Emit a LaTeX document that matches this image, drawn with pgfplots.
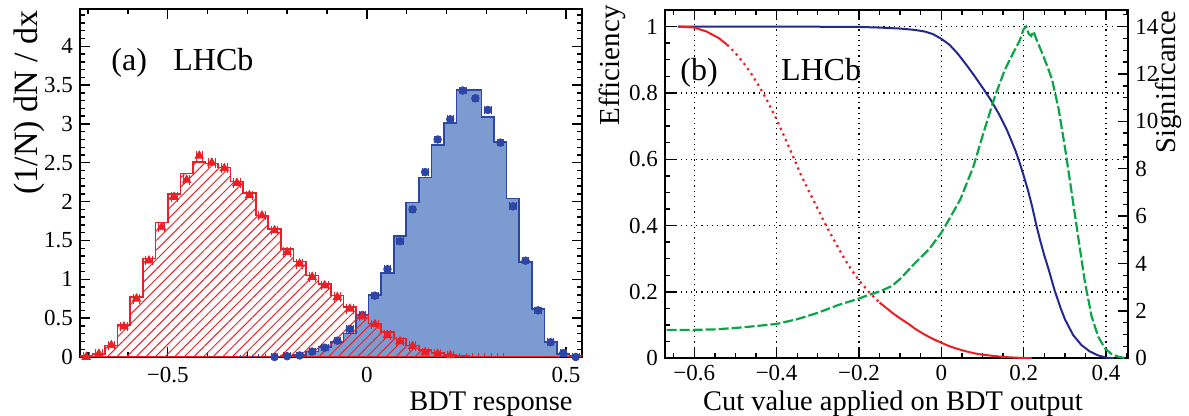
\documentclass[border=0pt]{standalone}
\usepackage{fontspec}
\setmainfont{Liberation Serif}
\usepackage{pgfplots}
\pgfplotsset{compat=1.18}
\usepackage{pgfplotstable}
\usetikzlibrary{patterns.meta}
\definecolor{hred}{RGB}{235,32,38}
\definecolor{hblue}{RGB}{45,70,165}
\definecolor{hfill}{RGB}{124,155,208}
\definecolor{cblue}{RGB}{35,40,140}
\definecolor{cred}{RGB}{235,30,35}
\definecolor{cgreen}{RGB}{10,165,70}

\pgfplotstableread{
e r b
-0.72 0.01 0
-0.6885 0.04 0
-0.657 0.15 0
-0.6255 0.41 0
-0.594 0.77 0
-0.5625 1.27 0
-0.531 1.73 0
-0.4995 2.10 0
-0.468 2.36 0
-0.4365 2.51 0
-0.405 2.49 0
-0.3735 2.44 0
-0.342 2.26 0.003
-0.3105 2.11 0.003
-0.279 1.82 0.004
-0.2475 1.65 0.006
-0.216 1.39 0.01
-0.1845 1.23 0.025
-0.153 1.05 0.07
-0.1215 0.94 0.13
-0.09 0.79 0.19
-0.0585 0.64 0.30
-0.027 0.54 0.54
0.0045 0.43 0.80
0.036 0.32 1.08
0.0675 0.24 1.56
0.099 0.15 1.99
0.1305 0.09 2.31
0.162 0.055 2.73
0.1935 0.025 3.01
0.225 0.012 3.44
0.2565 0.006 3.44
0.288 0.004 3.09
0.3195 0.003 2.77
0.351 0.002 2.04
0.3825 0 1.22
0.414 0 0.62
0.4455 0 0.19
0.477 0 0.04
0.5085 0 0.01
0.54 0 0.01
}\histtab

\pgfplotstableread{
c p
-0.70425 0.00
-0.67275 0.04
-0.64125 0.15
-0.60975 0.39
-0.57825 0.75
-0.54675 1.24
-0.51525 1.67
-0.48375 2.06
-0.45225 2.28
-0.42075 2.59
-0.38925 2.50
-0.35775 2.43
-0.32625 2.24
-0.29475 2.08
-0.26325 1.82
-0.23175 1.63
-0.20025 1.35
-0.16875 1.20
-0.13725 1.03
-0.10575 0.92
-0.07425 0.77
-0.04275 0.62
-0.01125 0.52
0.02025 0.42
0.05175 0.28
0.08325 0.20
0.11475 0.14
0.14625 0.06
0.17775 0.04
0.20925 0.02
0.24075 -0.01
0.27225 -0.01
0.30375 -0.01
0.33525 -0.01
}\redpts

\pgfplotstableread{
c p
-0.32625 -0.02
-0.29475 -0.02
-0.26325 -0.01
-0.23175 0.00
-0.20025 0.01
-0.16875 0.02
-0.13725 0.07
-0.10575 0.12
-0.07425 0.21
-0.04275 0.36
-0.01125 0.54
0.02025 0.79
0.05175 1.13
0.08325 1.49
0.11475 1.90
0.14625 2.38
0.17775 2.80
0.20925 3.06
0.24075 3.43
0.27225 3.33
0.30375 3.18
0.33525 2.76
0.36675 1.94
0.39825 1.24
0.42975 0.60
0.46125 0.19
0.49275 0.05
0.52425 0.00
}\bluepts

\pgfplotsset{rootstyle/.style={
  scale only axis, anchor=south west,
  tick align=inside, major tick length=5pt, minor tick length=2.5pt,
  axis line style={line width=0.9pt},
  every tick/.style={black, line width=0.7pt},
  tick label style={font=\fontsize{11.5}{12}\selectfont},
  /pgf/number format/assume math mode=true,
}}

\begin{document}
\begin{tikzpicture}
\path[use as bounding box] (0,0) rectangle (594.5pt,208pt);

% ---------------- panel (a)
\begin{axis}[rootstyle, at={(40pt,29.5pt)}, width=251pt, height=174pt,
  xmin=-0.72, xmax=0.54, ymin=0, ymax=4.48,
  xtick={-0.5,0,0.5}, xticklabels={−0.5,0,0.5},
  minor xtick={-0.7,-0.6,-0.4,-0.3,-0.2,-0.1,0.1,0.2,0.3,0.4},
  ytick={0,0.5,1,1.5,2,2.5,3,3.5,4},
  minor ytick={0.1,0.2,...,4.45},
  tick pos=both,
  xticklabel style={yshift=-1.5pt},
]
\addplot[const plot, draw=hblue, fill=hfill, line width=0.8pt] table[x=e,y=b]{\histtab} \closedcycle;
\addplot[const plot, draw=hred, line width=0.8pt,
  pattern={Lines[angle=45,distance=3.4pt,line width=0.5pt]}, pattern color=hred]
  table[x=e,y=r]{\histtab} \closedcycle;
\addplot[only marks, mark=*, mark size=1.9pt, color=hblue,
  error bars/.cd, x dir=both, x fixed=0.008, error bar style={line width=0.5pt}]
  table[x=c,y=p]{\bluepts};
\addplot[only marks, mark=triangle*, mark size=2.4pt, color=hred,
  error bars/.cd, x dir=both, x fixed=0.008, error bar style={line width=0.5pt}]
  table[x=c,y=p]{\redpts};
\end{axis}

% ---------------- panel (b), efficiency
\begin{axis}[rootstyle, at={(332.5pt,28.85pt)}, width=231.65pt, height=174.15pt,
  xmin=-0.671, xmax=0.454, ymin=0, ymax=1.05,
  xtick={-0.6,-0.4,-0.2,0,0.2,0.4}, xticklabels={−0.6,−0.4,−0.2,0,0.2,0.4},
  minor xtick={-0.65,-0.6,...,0.46},
  ytick={0,0.2,0.4,0.6,0.8,1}, minor ytick={0.05,0.1,...,1.06},
  xtick pos=both, ytick pos=left,
  grid=major, major grid style={black, line width=0.6pt, dotted},
]
\addplot[cblue, line width=1pt] coordinates {
(-0.64,1.0) (-0.5,1.0) (-0.4,1.0) (-0.3,0.9995) (-0.2,0.999) (-0.15,0.997)
(-0.1,0.994) (-0.065,0.99) (-0.04,0.985) (-0.02,0.977) (0,0.963) (0.02,0.945)
(0.04,0.918) (0.06,0.886) (0.08,0.852) (0.1,0.816) (0.12,0.779) (0.14,0.736)
(0.16,0.686) (0.18,0.626) (0.19,0.59) (0.2,0.55) (0.21,0.508) (0.22,0.46)
(0.23,0.405) (0.24,0.355) (0.25,0.31) (0.26,0.27) (0.275,0.205) (0.29,0.15)
(0.3,0.118) (0.32,0.07) (0.34,0.04) (0.36,0.021) (0.38,0.009) (0.4,0.002) (0.42,0)
};
\addplot[cred, line width=1pt] coordinates {
(-0.636,1.0) (-0.6,0.997) (-0.57,0.985) (-0.54,0.965) (-0.52,0.945)
};
\addplot[cred, line width=1.1pt, dotted] coordinates {
(-0.52,0.945) (-0.5,0.92) (-0.48,0.89) (-0.46,0.855) (-0.44,0.815) (-0.42,0.77)
(-0.4,0.72) (-0.38,0.665) (-0.357,0.6) (-0.34,0.55) (-0.32,0.5) (-0.3,0.45)
(-0.28,0.4) (-0.26,0.355) (-0.24,0.31) (-0.22,0.27) (-0.2,0.235) (-0.176,0.2)
(-0.15,0.168)
};
\addplot[cred, line width=1pt] coordinates {
(-0.15,0.168) (-0.12,0.138) (-0.1,0.12) (-0.08,0.104) (-0.065,0.09) (-0.04,0.071)
(-0.02,0.058) (0,0.047) (0.02,0.036) (0.04,0.028) (0.06,0.021) (0.08,0.015)
(0.1,0.011) (0.12,0.008) (0.15,0.004) (0.18,0.002) (0.22,0)
};
\end{axis}

% ---------------- panel (b), significance
\begin{axis}[rootstyle, at={(332.5pt,28.85pt)}, width=231.65pt, height=174.15pt,
  xmin=-0.671, xmax=0.454, ymin=0, ymax=14.7,
  axis x line=none, axis y line*=right,
  ytick={0,2,4,6,8,10,12,14}, minor ytick={0.5,1,...,14.6},
]
\addplot[cgreen, line width=1.1pt, dash pattern=on 5pt off 1.5pt] coordinates {
(-0.667,1.2) (-0.6,1.2) (-0.55,1.22) (-0.5,1.28) (-0.45,1.36) (-0.4,1.45)
(-0.35,1.65) (-0.3,1.92) (-0.25,2.25) (-0.2,2.52) (-0.176,2.68) (-0.15,2.82)
(-0.12,3.05) (-0.1,3.35) (-0.065,4.0) (-0.03,4.6) (0,5.3) (0.02,5.9)
(0.046,6.7) (0.078,8.1) (0.102,9.5) (0.13,11.05) (0.154,12.17) (0.174,12.87)
(0.19,13.4) (0.2,13.9) (0.206,14.0) (0.212,13.7) (0.218,13.6) (0.224,13.8)
(0.23,13.5) (0.245,12.87) (0.26,12.2) (0.269,11.75) (0.285,10.5) (0.301,8.8)
(0.313,7.4) (0.325,5.98) (0.337,4.57) (0.349,3.17) (0.365,1.76) (0.381,0.91)
(0.397,0.42) (0.413,0.18) (0.429,0.07) (0.445,0.01)
};
\end{axis}

% ---------------- texts
\node[anchor=base west, inner sep=0, font=\fontsize{16}{19}\selectfont] at (55.5pt,172.6pt) {(a)};
\node[anchor=base west, inner sep=0, font=\fontsize{16}{19}\selectfont] at (86.5pt,172.6pt) {LHCb};
\node[anchor=base west, inner sep=0, font=\fontsize{16}{19}\selectfont] at (340pt,167.5pt) {(b)};
\node[anchor=base west, inner sep=0, font=\fontsize{16}{19}\selectfont] at (390.3pt,167.5pt) {LHCb};
\node[rotate=90, anchor=east, inner sep=0, font=\fontsize{17}{20}\selectfont] at (14.5pt,203pt) {(1/N) dN / dx};
\node[rotate=90, anchor=east, inner sep=0, font=\fontsize{14.5}{17}\selectfont] at (306.25pt,205.5pt) {Efficiency};
\node[rotate=90, anchor=east, inner sep=0, font=\fontsize{14.3}{17}\selectfont] at (584.5pt,203pt) {Significance};
\node[anchor=base east, inner sep=0, font=\fontsize{14.2}{17}\selectfont] at (286.5pt,2.5pt) {BDT response};
\node[anchor=base east, inner sep=0, font=\fontsize{14.2}{17}\selectfont] at (541.5pt,2.5pt) {Cut value applied on BDT output};
\end{tikzpicture}
\end{document}
